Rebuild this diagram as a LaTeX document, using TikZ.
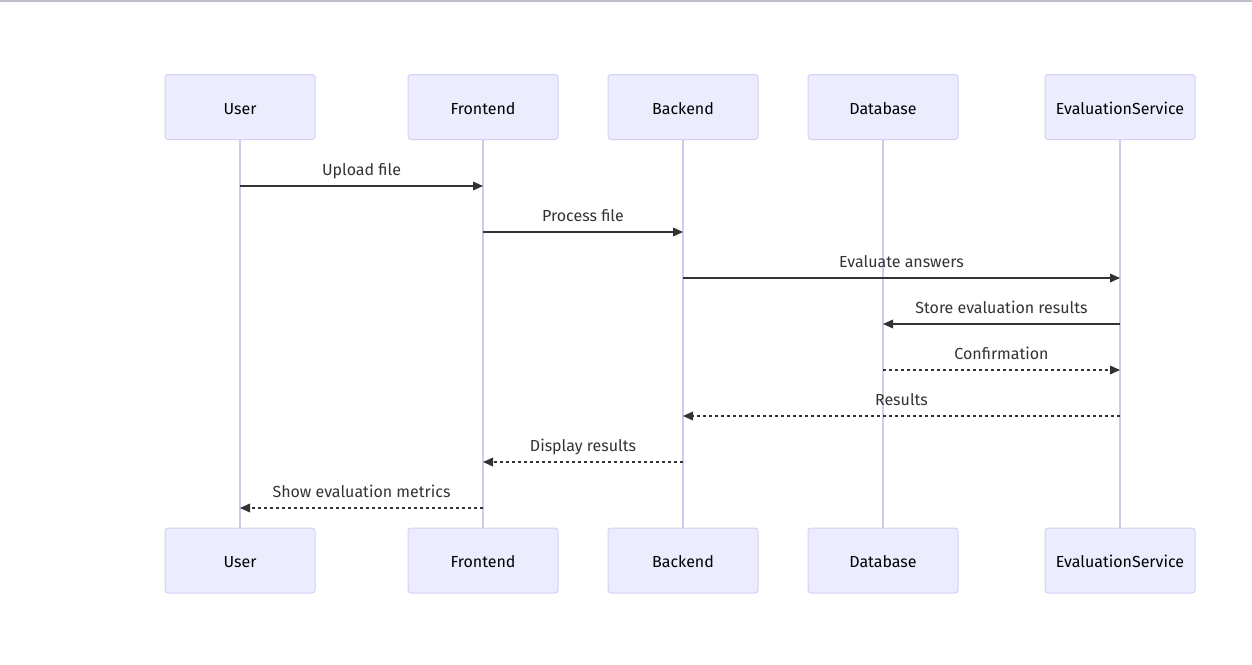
\documentclass[tikz,border=0pt]{standalone}
\usepackage{fontspec}
\setmainfont{Fira Sans}
\usetikzlibrary{arrows.meta}
\definecolor{actfill}{HTML}{ECECFF}
\definecolor{actline}{HTML}{D4D0F4}
\definecolor{lifeline}{HTML}{D2C9EE}
\definecolor{msgline}{HTML}{333333}
\definecolor{topbar}{HTML}{BCC1C8}

\begin{document}
\begin{tikzpicture}[x=0.75pt,y=-0.75pt]
	\tikzstyle{every node}+=[font=\fontsize{12}{14}\selectfont,text=msgline]
	\tikzstyle{actor}=[draw=actline,fill=actfill,line width=0.75pt,rounded corners=2.25pt,minimum width=112.5pt,minimum height=48.75pt,inner sep=0pt,text height=10.5pt,text depth=0pt,text=black]
	\tikzstyle{life}=[draw=lifeline,line width=1.1pt]
	\tikzstyle{msg}=[draw=msgline,line width=1.1pt,-{Triangle[length=7.5pt,width=6.5pt]}]
	\tikzstyle{reply}=[msg,dash pattern=on 2.25pt off 2.25pt]
	\tikzstyle{lbl}=[anchor=base,yshift=8pt]
	\useasboundingbox (0,0) rectangle (1252,664);
	\fill [topbar] (0,0) rectangle (1252,2);
	\node [actor] (user) at (240,107) {User};
	\node [actor] (front) at (483,107) {Frontend};
	\node [actor] (back) at (683,107) {Backend};
	\node [actor] (db) at (883,107) {Database};
	\node [actor] (eval) at (1120,107) {EvaluationService};
	\node [actor] (userB) at (240,560.5) {User};
	\node [actor] (frontB) at (483,560.5) {Frontend};
	\node [actor] (backB) at (683,560.5) {Backend};
	\node [actor] (dbB) at (883,560.5) {Database};
	\node [actor] (evalB) at (1120,560.5) {EvaluationService};
	\draw [life] (user.south) -- (userB.north);
	\draw [life] (front.south) -- (frontB.north);
	\draw [life] (back.south) -- (backB.north);
	\draw [life] (db.south) -- (dbB.north);
	\draw [life] (eval.south) -- (evalB.north);
	\coordinate (m1) at (0,186);
	\coordinate (m2) at (0,232);
	\coordinate (m3) at (0,278);
	\coordinate (m4) at (0,324);
	\coordinate (m5) at (0,370);
	\coordinate (m6) at (0,416);
	\coordinate (m7) at (0,462);
	\coordinate (m8) at (0,508);
	\draw [msg] (user |- m1) -- node [lbl] {Upload file} (front |- m1);
	\draw [msg] (front |- m2) -- node [lbl] {Process file} (back |- m2);
	\draw [msg] (back |- m3) -- node [lbl] {Evaluate answers} (eval |- m3);
	\draw [msg] (eval |- m4) -- node [lbl] {Store evaluation results} (db |- m4);
	\draw [reply] (db |- m5) -- node [lbl] {Confirmation} (eval |- m5);
	\draw [reply] (eval |- m6) -- node [lbl] {Results} (back |- m6);
	\draw [reply] (back |- m7) -- node [lbl] {Display results} (front |- m7);
	\draw [reply] (front |- m8) -- node [lbl] {Show evaluation metrics} (user |- m8);
\end{tikzpicture}
\end{document}
